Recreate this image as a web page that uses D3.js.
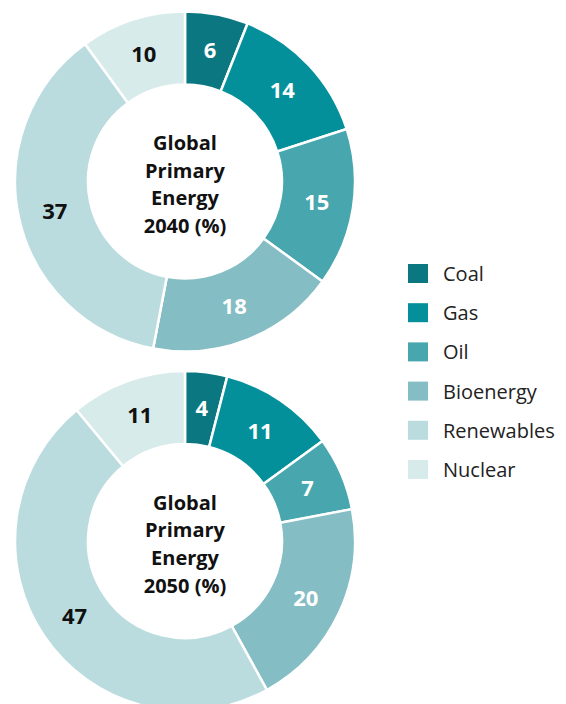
<!DOCTYPE html>
<html>
<head>
<meta charset="utf-8">
<script src="https://cdn.jsdelivr.net/npm/d3@7"></script>
<style>
body{margin:0;background:#fff;}
svg{display:block;font-family:"Open Sans",sans-serif;}
</style>
</head>
<body>
<script>
const categories=["Coal","Gas","Oil","Bioenergy","Renewables","Nuclear"]
const values2040=[6,14,15,18,37,10]
const values2050=[4,11,7,20,47,11]
const titles=[["Global","Primary","Energy","2040 (%)"],["Global","Primary","Energy","2050 (%)"]]
const colors=["#0b7881","#03909a","#48a6ae","#84bdc3","#bbdcdf","#d8ebeb"]
const labelColors=["#fff","#fff","#fff","#fff","#111","#111"]

const width=566, height=704,
outerR=170, innerR=97, cx=185;

const color=d3.scaleOrdinal().domain(categories).range(colors)
const labelColor=d3.scaleOrdinal().domain(categories).range(labelColors)

const svg=d3.select("body").append("svg")
 .attr("width",width)
 .attr("height",height)

const pie=d3.pie().sort(null).value(d=>d.v)
const arc=d3.arc().innerRadius(innerR).outerRadius(outerR)

const drawDonut=(vals,title,cy)=>{
  const data=categories.map((c,i)=>({c:c,v:vals[i]}))
  const g=svg.append("g").attr("transform",`translate(${cx},${cy})`)

  g.selectAll("path")
   .data(pie(data))
   .enter().append("path")
   .attr("d",arc)
   .attr("fill",d=>color(d.data.c))
   .attr("stroke","#fff")
   .attr("stroke-width",2.5)

  g.selectAll("text.val")
   .data(pie(data))
   .enter().append("text")
   .attr("class","val")
   .attr("transform",d=>`translate(${arc.centroid(d)})`)
   .attr("text-anchor","middle")
   .attr("dy","0.36em")
   .attr("font-size",22)
   .attr("font-weight","bold")
   .attr("fill",d=>labelColor(d.data.c))
   .text(d=>d.data.v)

  g.append("text")
   .attr("text-anchor","middle")
   .attr("font-size",20)
   .attr("font-weight","bold")
   .attr("fill","#111")
   .selectAll("tspan")
   .data(title)
   .enter().append("tspan")
   .attr("x",0)
   .attr("y",(d,i)=>-31.5+i*27.7)
   .text(d=>d)
}

drawDonut(values2040,titles[0],181.5)
drawDonut(values2050,titles[1],541)

const legend=svg.append("g").attr("id","legend")
 .selectAll("g")
 .data(categories)
 .enter().append("g")
 .attr("transform",(d,i)=>`translate(408,${264+i*39.2})`)

legend.append("rect")
 .attr("width",20)
 .attr("height",19)
 .attr("fill",color)

legend.append("text")
 .attr("x",35)
 .attr("y",10)
 .attr("dy","0.35em")
 .attr("font-size",20)
 .attr("fill","#222")
 .text(d=>d)
</script>
</body>
</html>
